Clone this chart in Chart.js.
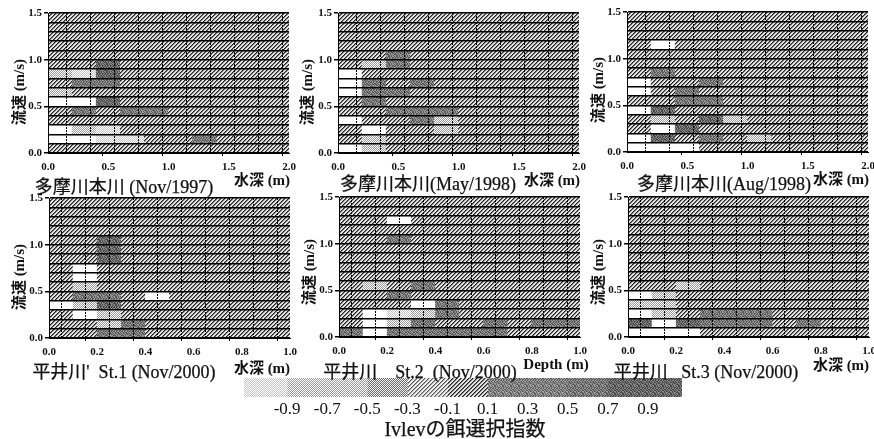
<!DOCTYPE html>
<html>
<head>
<meta charset="utf-8">
<script src="https://cdn.jsdelivr.net/npm/chart.js@4"></script>
<style>
  html, body { margin: 0; padding: 0; background: #fff; }
  #page { position: relative; width: 874px; height: 439px; overflow: hidden; }
  canvas { position: absolute; }
  .lbl { position: absolute; white-space: pre; transform: translate(-50%, -50%); color: #111;
         font-family: "Liberation Serif", "Noto Sans CJK JP", serif; }
  .cap { font-size: 18px; -webkit-text-stroke: 0.25px #111; }
  .ax { font-size: 15px; font-weight: bold; }
  .yt { transform: translate(-50%, -50%) rotate(-90deg); }
</style>
</head>
<body>
<div id="page"></div>
<script>
// --- DATA ---
// Ivlev index per cell, first row is 0.0-0.1 m/s, columns are the ten depth bins
// -1 = white, 0 = hatched background
const tama1997 = [
  [ 0,   0,   0,   0,  0,  0,  0,  0,  0,  0],
  [-1,  -1, -.85,-.85, 0,  0, .5,  0,  0,  0],
  [-1, -.7, -.85,  0,  0,  0,  0,  0,  0,  0],
  [ 0,   0,   0,   0,  0,  0,  0,  0,  0,  0],
  [ 0,  .5,   0,  .5, .5,  0,  0,  0,  0,  0],
  [-1,  -1,  .7,   0,  0,  0,  0,  0,  0,  0],
  [-.7,  0,   0,   0,  0,  0,  0,  0,  0,  0],
  [ 0,  .5,  .5,   0,  0,  0,  0,  0,  0,  0],
  [-.7,-.85, .7,   0,  0,  0,  0,  0,  0,  0],
  [ 0,   0,  .7,   0,  0,  0,  0,  0,  0,  0],
  [ 0,   0,   0,   0,  0,  0,  0,  0,  0,  0],
  [ 0,   0,   0,   0,  0,  0,  0,  0,  0,  0],
  [ 0,   0,   0,   0,  0,  0,  0,  0,  0,  0],
  [ 0,   0,   0,   0,  0,  0,  0,  0,  0,  0],
  [ 0,   0,   0,   0,  0,  0,  0,  0,  0,  0]
];
const tama1998May = [
  [-1, -.7,   0,   0,  0,  0,  0,  0,  0,  0],
  [ 0, -.7,   0,   0,  0,  0,  0,  0,  0,  0],
  [ 0,  -1,   0,   0, -.7, 0,  0,  0,  0,  0],
  [-1,   0,   0,  .5, -.7, 0,  0,  0,  0,  0],
  [ 0,   0,  .5,  .5, .5,  0,  0,  0,  0,  0],
  [ 0,  .5,   0,   0,  0,  0,  0,  0,  0,  0],
  [-1,  .5,  .5,   0,  0,  0,  0,  0,  0,  0],
  [-1,  .5,   0,  .5,  0,  0,  0,  0,  0,  0],
  [-1,   0,   0,   0,  0,  0,  0,  0,  0,  0],
  [ 0, -.7,  .5,   0,  0,  0,  0,  0,  0,  0],
  [ 0,   0,  .5,   0,  0,  0,  0,  0,  0,  0],
  [ 0,   0,   0,   0,  0,  0,  0,  0,  0,  0],
  [ 0,   0,   0,   0,  0,  0,  0,  0,  0,  0],
  [ 0,   0,   0,   0,  0,  0,  0,  0,  0,  0],
  [ 0,   0,   0,   0,  0,  0,  0,  0,  0,  0]
];
const tama1998Aug = [
  [-1,  -1,  -1,   0,  0,  0,  0,  0,  0,  0],
  [-1,  .7,   0,  .5,  0, -.7, 0,  0,  0,  0],
  [ 0,  -1,  .7,   0,  0,  0,  0,  0,  0,  0],
  [ 0, -.7,   0,  .7, -.7, 0,  0,  0,  0,  0],
  [-1,  .7,   0,   0,  0,  0,  0,  0,  0,  0],
  [ 0,   0,  .5,  .5,  0,  0,  0,  0,  0,  0],
  [-1,   0,  .5,   0,  0,  0,  0,  0,  0,  0],
  [-1,   0,   0,  .5,  0,  0,  0,  0,  0,  0],
  [ 0,  .5,   0,   0,  0,  0,  0,  0,  0,  0],
  [ 0,   0,   0,   0,  0,  0,  0,  0,  0,  0],
  [ 0,   0,   0,   0,  0,  0,  0,  0,  0,  0],
  [ 0,  -1,   0,   0,  0,  0,  0,  0,  0,  0],
  [ 0,   0,   0,   0,  0,  0,  0,  0,  0,  0],
  [ 0,   0,   0,   0,  0,  0,  0,  0,  0,  0],
  [ 0,   0,   0,   0,  0,  0,  0,  0,  0,  0]
];
const hirai1 = [
  [ 0,   0,  .5,  .5,  0,  0,  0,  0,  0,  0],
  [ 0,   0, -.7,  .5,  0,  0,  0,  0,  0,  0],
  [ 0,  -1, -.7,   0,  0,  0,  0,  0,  0,  0],
  [-1, -.7,  .7,   0,  0,  0,  0,  0,  0,  0],
  [ 0,  .5,  .5,   0, -1,  0,  0,  0,  0,  0],
  [ 0, -.7,   0,   0,  0,  0,  0,  0,  0,  0],
  [ 0,  -1,   0,   0,  0,  0,  0,  0,  0,  0],
  [ 0,  -1,   0,   0,  0,  0,  0,  0,  0,  0],
  [ 0,   0,  .7,   0,  0,  0,  0,  0,  0,  0],
  [ 0,   0,  .7,   0,  0,  0,  0,  0,  0,  0],
  [ 0,   0,  .7,   0,  0,  0,  0,  0,  0,  0],
  [ 0,   0,   0,   0,  0,  0,  0,  0,  0,  0],
  [ 0,   0,   0,   0,  0,  0,  0,  0,  0,  0],
  [ 0,   0,   0,   0,  0,  0,  0,  0,  0,  0],
  [ 0,   0,   0,   0,  0,  0,  0,  0,  0,  0]
];
const hirai2 = [
  [.5,  -1,  .5,  .5, .5, .5, .5,  0,  0,  0],
  [ 0,  -1, -.7,  .5,  0,  0, .5,  0, .5, .5],
  [ 0,  -1,-.85, -.7, .5,  0,  0,  0,  0,  0],
  [ 0,   0,   0,  -1, .5,  0,  0,  0,  0,  0],
  [ 0,   0,  .5,   0,  0,  0,  0,  0,  0,  0],
  [ 0, -.7,   0,  .5,  0,  0,  0,  0,  0,  0],
  [ 0,   0,   0,   0,  0,  0,  0,  0,  0,  0],
  [ 0,   0,   0,   0,  0,  0,  0,  0,  0,  0],
  [ 0,   0,   0,   0,  0,  0,  0,  0,  0,  0],
  [ 0,   0,   0,   0,  0,  0,  0,  0,  0,  0],
  [ 0,   0,  .5,   0,  0,  0,  0,  0,  0,  0],
  [ 0,   0,   0,   0,  0,  0,  0,  0,  0,  0],
  [ 0,   0,  -1,   0,  0,  0,  0,  0,  0,  0],
  [ 0,   0,   0,   0,  0,  0,  0,  0,  0,  0],
  [ 0,   0,   0,   0,  0,  0,  0,  0,  0,  0]
];
const hirai3 = [
  [-1,  -1,  -1,   0,  0,  0,  0,  0,  0,  0],
  [.7,  -1,  .7,  .5, .5, .5,  0, .5,  0,  0],
  [-1, -.7,   0,  .5, .5, .5,  0,  0,  0,  0],
  [-.7,-.7,   0,   0,  0,  0,  0,  0,  0,  0],
  [-1, -.7,   0,   0,  0,  0,  0,  0,  0,  0],
  [ 0,   0, -.7,   0,  0,  0,  0,  0,  0,  0],
  [ 0,   0,   0,   0,  0,  0,  0,  0,  0,  0],
  [ 0,   0,   0,   0,  0,  0,  0,  0,  0,  0],
  [ 0,   0,   0,   0,  0,  0,  0,  0,  0,  0],
  [ 0,   0,   0,   0,  0,  0,  0,  0,  0,  0],
  [ 0,   0,   0,   0,  0,  0,  0,  0,  0,  0],
  [ 0,   0,   0,   0,  0,  0,  0,  0,  0,  0],
  [ 0,   0,   0,   0,  0,  0,  0,  0,  0,  0],
  [ 0,   0,   0,   0,  0,  0,  0,  0,  0,  0],
  [ 0,   0,   0,   0,  0,  0,  0,  0,  0,  0]
];

// bin edges (m/s) and bin centres (m)
const speedEdges = [0, .1, .2, .3, .4, .5, .6, .7, .8, .9, 1, 1.1, 1.2, 1.3, 1.4, 1.5];
const depthCentersTama = [.1, .3, .5, .7, .9, 1.1, 1.3, 1.5, 1.7, 1.9];
const depthCentersHirai = [.05, .15, .25, .35, .45, .55, .65, .75, .85, .95];
const tickLabelsTama = ['0.0', '0.5', '1.0', '1.5', '2.0'];
const tickLabelsHirai = ['0.0', '0.2', '0.4', '0.6', '0.8', '1.0'];

// colour bar
const legendEdges = [-1.115, -.9, -.7, -.5, -.3, -.1, .1, .3, .5, .7, .9, 1.07];
const legendValues = [-.9, -.8, -.7, -.5, -.3, -.1, .2, .4, .6, .8, 1];
const legendTicks = [-.9, -.7, -.5, -.3, -.1, .1, .3, .5, .7, .9];

// --- PATTERNS ---
function tile(size, fn) {
  const c = document.createElement('canvas');
  c.width = c.height = size;
  const g = c.getContext('2d');
  for (let x = 0; x < size; x++) {
    for (let y = 0; y < size; y++) {
      g.fillStyle = fn(x, y);
      g.fillRect(x, y, 1, 1);
    }
  }
  return g.createPattern(c, 'repeat');
}
const speckle = ['10110100', '01011011', '11010010', '00101101', '10110110', '01001011', '11101000', '00110101'];
const patterns = {
  white: '#ffffff',
  dots1: tile(2, (x, y) => (x + y) % 2 ? '#c4c4c4' : '#ffffff'),
  dots2: tile(2, (x, y) => (x + y) % 2 ? '#9a9a9a' : '#ffffff'),
  dots3: tile(2, (x, y) => (x + y) % 2 ? '#6c6c6c' : '#f0f0f0'),
  hatch1: tile(4, (x, y) => (x + y) % 4 === 0 ? '#555' : ((x + y) % 4 === 1 ? '#aaa' : '#f0f0f0')),
  hatch2: tile(4, (x, y) => (x + y) % 4 === 0 ? '#222' : ((x + y) % 4 === 1 ? '#777' : '#e4e4e4')),
  dark1: tile(8, (x, y) => speckle[y][x] === '1' ? '#606060' : '#a4a4a4'),
  dark2: tile(8, (x, y) => speckle[y][x] === '1' ? '#585858' : '#9a9a9a'),
  dark3: tile(8, (x, y) => speckle[y][x] === '1' ? '#484848' : '#888888')
};
function patternFor(v) {
  if (v <= -1) return patterns.white;
  if (v < -.8) return patterns.dots1;
  if (v < -.6) return patterns.dots2;
  if (v < -.4) return patterns.dots3;
  if (v < -.2) return patterns.hatch1;
  if (v < .1) return patterns.hatch2;
  if (v < .45) return patterns.dark1;
  if (v < .65) return patterns.dark2;
  return patterns.dark3;
}

// --- HELPERS ---
const page = document.getElementById('page');
const serif = '"Liberation Serif", serif';
const clear = 'rgba(0,0,0,0)';

function addLabel(text, x, y, cls) {
  const el = document.createElement('div');
  el.className = 'lbl ' + cls;
  el.textContent = text;
  el.style.left = x + 'px';
  el.style.top = y + 'px';
  page.appendChild(el);
}
function addCanvas(x, y, w, h) {
  const c = document.createElement('canvas');
  c.width = w;
  c.height = h;
  c.style.left = x + 'px';
  c.style.top = y + 'px';
  page.appendChild(c);
  return c;
}

// 1. One heat panel, left/top is the corner of the plot area
function drawPanel(grid, centers, xMax, xLabels, left, top, w, h) {
  const datasets = grid.map((row, r) => ({
    data: row.map((v, c) => ({ x: centers[c], y: [speedEdges[r], speedEdges[r + 1]] })),
    backgroundColor: row.map(patternFor),
    borderWidth: 0,
    barThickness: w / centers.length,
    grouped: false
  }));
  // grid every bin, ticks at 0.1 steps so the labelled values fall on a tick
  const binTenths = xMax === 2 ? 2 : 1;
  const xTicks = [];
  for (let i = 0; i <= xMax * 10; i++) xTicks.push({ value: i / 10 });
  const pad = { l: 48, t: 13, r: 12, b: 26 };

  new Chart(addCanvas(left - pad.l, top - pad.t, w + pad.l + pad.r, h + pad.t + pad.b), {
    type: 'bar',
    data: { datasets },
    options: {
      responsive: false,
      animation: false,
      devicePixelRatio: 1,
      layout: { padding: { top: pad.t, right: pad.r, left: 0, bottom: 0 } },
      plugins: { legend: { display: false }, tooltip: { enabled: false } },
      scales: {
        x: {
          type: 'linear',
          offset: false,
          min: 0,
          max: xMax,
          afterBuildTicks: s => { s.ticks = xTicks.slice(); },
          afterFit: s => { s.height = pad.b; s.paddingLeft = 0; s.paddingRight = 0; },
          grid: {
            z: 1,
            lineWidth: 1,
            tickLength: 3,
            color: c => c.tick && Math.round(c.tick.value * 10) % binTenths === 0 ? '#000' : clear,
            tickColor: c => c.tick && xLabels.includes(c.tick.value.toFixed(1)) ? '#000' : clear
          },
          border: { color: '#000', dash: [2, 1], z: 1 },
          ticks: {
            autoSkip: false,
            maxRotation: 0,
            padding: 5,
            color: '#111',
            font: { family: serif, size: 11, weight: 'bold' },
            callback: v => xLabels.includes(v.toFixed(1)) ? v.toFixed(1) : ''
          }
        },
        y: {
          min: 0,
          max: 1.5,
          afterBuildTicks: s => { s.ticks = speedEdges.map(v => ({ value: v })); },
          afterFit: s => { s.width = pad.l; s.paddingTop = 0; s.paddingBottom = 0; },
          grid: {
            z: 1,
            lineWidth: 1.5,
            tickLength: 4,
            color: '#000',
            tickColor: c => c.tick && Math.round(c.tick.value * 10) % 5 === 0 ? '#000' : clear
          },
          border: { color: '#000', width: 1, z: 1 },
          ticks: {
            autoSkip: false,
            padding: 2,
            color: '#111',
            font: { family: serif, size: 11, weight: 'bold' },
            callback: v => Math.round(v * 10) % 5 === 0 ? v.toFixed(1) : ''
          }
        }
      }
    }
  });
}

// 2. Colour bar
function drawLegend() {
  const left = 244, top = 378, w = 438, h = 19;
  const datasets = legendValues.map((v, i) => ({
    data: [[legendEdges[i], legendEdges[i + 1]]],
    backgroundColor: patternFor(v),
    borderWidth: 0,
    barPercentage: 1,
    categoryPercentage: 1,
    grouped: false
  }));
  new Chart(addCanvas(left, top, w + 8, h + 24), {
    type: 'bar',
    data: { labels: [''], datasets },
    options: {
      indexAxis: 'y',
      responsive: false,
      animation: false,
      devicePixelRatio: 1,
      layout: { padding: { top: 0, right: 8, left: 0, bottom: 0 } },
      plugins: { legend: { display: false }, tooltip: { enabled: false } },
      scales: {
        y: { display: false },
        x: {
          type: 'linear',
          min: legendEdges[0],
          max: legendEdges[legendEdges.length - 1],
          afterBuildTicks: s => { s.ticks = legendTicks.map(v => ({ value: v })); },
          afterFit: s => { s.height = 24; s.paddingLeft = 0; s.paddingRight = 0; },
          grid: { display: false, drawTicks: false },
          border: { display: false },
          ticks: {
            autoSkip: false,
            maxRotation: 0,
            padding: 2,
            color: '#111',
            font: { family: serif, size: 17 },
            callback: v => v.toFixed(1)
          }
        }
      }
    }
  });
}

// --- PANELS ---
const W = 241, H = 140;
drawPanel(tama1997, depthCentersTama, 2, tickLabelsTama, 48, 13, W, H);
drawPanel(tama1998May, depthCentersTama, 2, tickLabelsTama, 338, 13, W, H);
drawPanel(tama1998Aug, depthCentersTama, 2, tickLabelsTama, 627, 12, W, H);
drawPanel(hirai1, depthCentersHirai, 1, tickLabelsHirai, 49, 198, W, H);
drawPanel(hirai2, depthCentersHirai, 1, tickLabelsHirai, 339, 197, W, H);
drawPanel(hirai3, depthCentersHirai, 1, tickLabelsHirai, 628, 197, W, H);
drawLegend();

addLabel('多摩川本川 (Nov/1997)', 124, 185, 'cap');
addLabel('多摩川本川(May/1998)', 428, 182, 'cap');
addLabel('多摩川本川(Aug/1998)', 724, 182, 'cap');
addLabel("平井川'  St.1 (Nov/2000)", 124, 370, 'cap');
addLabel('平井川    St.2  (Nov/2000)', 420, 370, 'cap');
addLabel('平井川   St.3 (Nov/2000)', 706, 370, 'cap');

addLabel('水深 (m)', 262, 178, 'ax');
addLabel('水深 (m)', 552, 178, 'ax');
addLabel('水深 (m)', 841, 177, 'ax');
addLabel('水深 (m)', 262, 366, 'ax');
addLabel('Depth (m)', 556, 364, 'ax');
addLabel('水深 (m)', 841, 363, 'ax');

addLabel('流速 (m/s)', 17, 92, 'ax yt');
addLabel('流速 (m/s)', 305, 92, 'ax yt');
addLabel('流速 (m/s)', 596, 90, 'ax yt');
addLabel('流速 (m/s)', 17, 277, 'ax yt');
addLabel('流速 (m/s)', 307, 272, 'ax yt');
addLabel('流速 (m/s)', 596, 272, 'ax yt');

addLabel('Ivlevの餌選択指数', 465, 427, 'cap');
page.lastChild.style.fontSize = '20px';
</script>
</body>
</html>
